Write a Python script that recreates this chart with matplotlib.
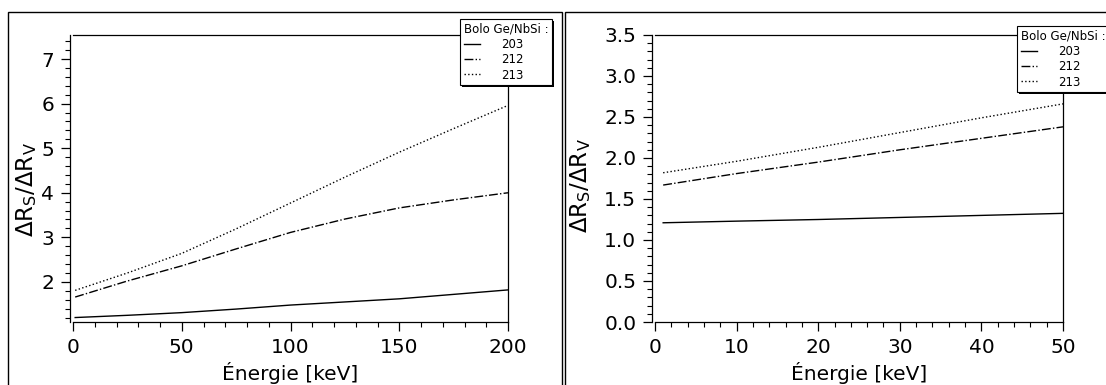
import matplotlib
matplotlib.use('Agg')
import matplotlib.pyplot as plt
import matplotlib.patches as mpatches
from matplotlib.ticker import MultipleLocator, FormatStrFormatter
from matplotlib.transforms import IdentityTransform

plt.rcParams['font.family'] = ['DejaVu Sans']
plt.rcParams['mathtext.default'] = 'regular'

# ---- data ----
series_names = ['203', '212', '213']
series_styles = ['-', '-.', ':']

energy_wide = [1, 25, 50, 75, 100, 125, 150, 175, 200]
wide_203 = [1.20, 1.25, 1.31, 1.39, 1.48, 1.55, 1.62, 1.72, 1.82]
wide_212 = [1.66, 2.02, 2.36, 2.74, 3.11, 3.41, 3.66, 3.84, 4.00]
wide_213 = [1.81, 2.20, 2.64, 3.19, 3.77, 4.35, 4.91, 5.44, 5.96]

energy_zoom = [1, 10, 20, 30, 40, 50]
zoom_203 = [1.21, 1.23, 1.25, 1.275, 1.30, 1.325]
zoom_212 = [1.67, 1.81, 1.95, 2.10, 2.24, 2.38]
zoom_213 = [1.82, 1.96, 2.13, 2.31, 2.49, 2.66]

W, H = 1106, 385
fig = plt.figure(figsize=(W / 100, H / 100), dpi=100)

# panel frames
fig.patches.append(mpatches.Rectangle((8 / W, -0.1), (562 - 8) / W, 1.1 - 12 / H,
                                      transform=fig.transFigure, fill=False,
                                      edgecolor='black', linewidth=1))
fig.patches.append(mpatches.Rectangle((565 / W, -0.1), 0.6, 1.1 - 12 / H,
                                      transform=fig.transFigure, fill=False,
                                      edgecolor='black', linewidth=1))

ax1 = fig.add_axes([73 / W, 1 - 322 / H, (508 - 73) / W, (322 - 35) / H])
ax2 = fig.add_axes([655 / W, 1 - 322 / H, (1063 - 655) / W, (322 - 35) / H])


def style_axis(ax, xmaj, xmin, ymaj, ymin):
    ax.xaxis.set_major_locator(MultipleLocator(xmaj))
    ax.xaxis.set_minor_locator(MultipleLocator(xmin))
    ax.yaxis.set_major_locator(MultipleLocator(ymaj))
    ax.yaxis.set_minor_locator(MultipleLocator(ymin))
    ax.tick_params(which='major', direction='out', length=6.5, width=0.9,
                   labelsize=14.5, pad=5)
    ax.tick_params(which='minor', direction='out', length=3.5, width=0.8)
    ax.spines['left'].set_position(('outward', 2))
    for s in ax.spines.values():
        s.set_linewidth(0.9)
    ax.set_xlabel('Énergie [keV]', fontsize=14.5)
    ax.set_ylabel(r'$\Delta R_S/\Delta R_V$', fontsize=16.5)
    ax.xaxis.set_label_coords(0.5, -0.14)


def add_legend(ax, x0, y0):
    leg = ax.legend(title='Bolo Ge/NbSi :', loc='upper left',
                    bbox_to_anchor=(x0 / W, 1 - y0 / H),
                    bbox_transform=fig.transFigure, borderaxespad=0,
                    fontsize=8.5, title_fontsize=8.5, handlelength=1.4,
                    handletextpad=1.8, labelspacing=0.2, borderpad=0.3,
                    fancybox=False, framealpha=1, edgecolor='black')
    leg._legend_box.align = 'left'
    leg.get_frame().set_linewidth(0.8)
    return leg


for vals, ls, name in zip([wide_203, wide_212, wide_213], series_styles, series_names):
    ax1.plot(energy_wide, vals, color='black', linestyle=ls, linewidth=1, label=name)
ax1.set_xlim(0, 200)
ax1.set_ylim(1.1, 7.54)
style_axis(ax1, 50, 10, 1, 0.2)
ax1.yaxis.set_label_coords(-0.078, 0.463)
leg1 = add_legend(ax1, 460, 19)

for vals, ls, name in zip([zoom_203, zoom_212, zoom_213], series_styles, series_names):
    ax2.plot(energy_zoom, vals, color='black', linestyle=ls, linewidth=1, label=name)
ax2.set_xlim(0, 50)
ax2.set_ylim(0, 3.5)
ax2.yaxis.set_major_formatter(FormatStrFormatter('%.1f'))
style_axis(ax2, 10, 2, 0.5, 0.1)
ax2.yaxis.set_label_coords(-0.152, 0.476)
leg2 = add_legend(ax2, 1017, 26)

# thin drop shadow behind each legend box
fig.canvas.draw()
renderer = fig.canvas.get_renderer()
for ax, leg in [(ax1, leg1), (ax2, leg2)]:
    bb = leg.get_frame().get_window_extent(renderer)
    sh = mpatches.Rectangle((bb.x0 + 2, bb.y0 - 2), bb.width, bb.height,
                            transform=IdentityTransform(), facecolor='black',
                            edgecolor='none', zorder=leg.get_zorder() - 0.1,
                            clip_on=False)
    ax.add_patch(sh)

fig.savefig('out.png', dpi=100)
